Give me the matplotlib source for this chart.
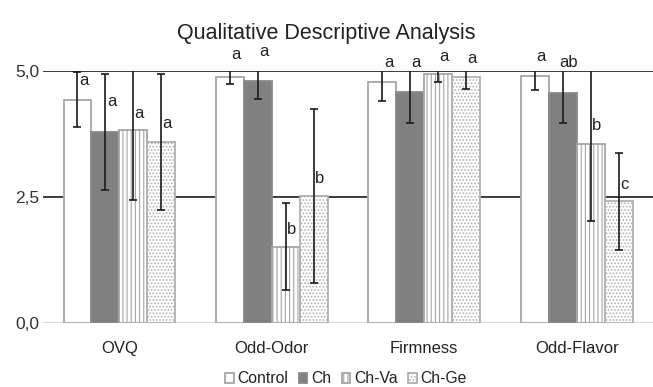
import matplotlib
matplotlib.use('Agg')
import matplotlib.pyplot as plt
import numpy as np

plt.rcParams['font.family'] = ['Liberation Sans', 'DejaVu Sans']
plt.rcParams['hatch.linewidth'] = 0.8

categories = ['OVQ', 'Odd-Odor', 'Firmness', 'Odd-Flavor']
series = ['Control', 'Ch', 'Ch-Va', 'Ch-Ge']

means = {
    'Control': [4.43, 4.89, 4.78, 4.91],
    'Ch':      [3.79, 4.81, 4.59, 4.57],
    'Ch-Va':   [3.82, 1.51, 4.94, 3.56],
    'Ch-Ge':   [3.59, 2.52, 4.89, 2.41],
}
errors = {
    'Control': [0.55, 0.15, 0.38, 0.29],
    'Ch':      [1.16, 0.36, 0.62, 0.60],
    'Ch-Va':   [1.39, 0.86, 0.16, 1.53],
    'Ch-Ge':   [1.36, 1.73, 0.25, 0.96],
}
letters = {
    'Control': ['a', 'a', 'a', 'a'],
    'Ch':      ['a', 'a', 'a', 'ab'],
    'Ch-Va':   ['a', 'b', 'a', 'b'],
    'Ch-Ge':   ['a', 'b', 'a', 'c'],
}
letter_y = {
    'Control': [4.82, 5.32, 5.17, 5.29],
    'Ch':      [4.39, 5.39, 5.17, 5.17],
    'Ch-Va':   [4.15, 1.86, 5.29, 3.91],
    'Ch-Ge':   [3.95, 2.86, 5.24, 2.74],
}

styles = {
    'Control': dict(color='white', edgecolor='#a6a6a6', hatch=None),
    'Ch':      dict(color='#808080', edgecolor='#8a8a8a', hatch=None),
    'Ch-Va':   dict(color='white', edgecolor='#a6a6a6', hatch='||||'),
    'Ch-Ge':   dict(color='white', edgecolor='#b0b0b0', hatch='.....'),
}

fig = plt.figure(figsize=(6.53, 3.87), dpi=100)
ax = fig.add_axes([0.066, 0.166, 0.934, 0.6505])

x = np.arange(len(categories))
w = 0.183
handles = []
for i, s in enumerate(series):
    pos = x + (i - 1.5) * w
    st = styles[s]
    b = ax.bar(pos, means[s], w, color=st['color'], edgecolor=st['edgecolor'],
               hatch=st['hatch'], linewidth=1.3, zorder=2, label=s)
    handles.append(b)
    ax.errorbar(pos, means[s], yerr=errors[s], fmt='none', ecolor='#1a1a1a',
                elinewidth=1.2, capsize=3, capthick=1.2, zorder=3)
    for p, lt, ly in zip(pos, letters[s], letter_y[s]):
        ax.text(p + 0.04, ly, lt, ha='center', va='center', fontsize=12,
                color='#222222', clip_on=False, zorder=4)

for gy in [2.5, 5.0]:
    ax.axhline(gy, color='#1a1a1a', linewidth=1.2, zorder=1)
ax.axhline(0, color='#d9d9d9', linewidth=1.5, zorder=1)

ax.set_xlim(-0.5, 3.5)
ax.set_ylim(0, 5)
ax.set_yticks([0, 2.5, 5.0])
ax.set_yticklabels(['0,0', '2,5', '5,0'], fontsize=12.5, color='#333333')
ax.set_xticks(x)
ax.set_xticklabels(categories, fontsize=12, color='#222222')
ax.tick_params(axis='x', length=0, pad=13)
ax.tick_params(axis='y', length=0, pad=3)
for sp in ax.spines.values():
    sp.set_visible(False)

fig.suptitle('Qualitative Descriptive Analysis', fontsize=15.5, y=0.94, color='#222222')

fig.legend(handles=handles, labels=series, loc='lower center', ncol=4,
           bbox_to_anchor=(0.53, -0.035), frameon=False, fontsize=11.3,
           handlelength=0.55, handleheight=0.55, handletextpad=0.25,
           columnspacing=0.65, labelcolor='#222222')

fig.savefig('out.png', dpi=100)
